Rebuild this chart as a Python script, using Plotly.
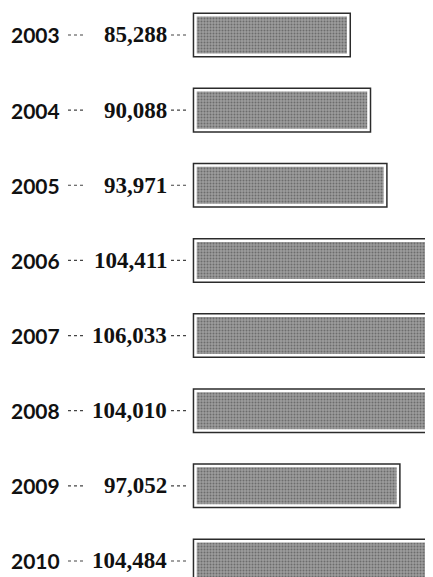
import plotly.graph_objects as go

# ---- data ----
years = ["2003", "2004", "2005", "2006", "2007", "2008", "2009", "2010"]
values = [85288, 90088, 93971, 104411, 106033, 104010, 97052, 104484]
value_labels = [f"{v:,}" for v in values]

# truncated value axis (bars start at the axis origin, not at zero)
AXIS_BASE = 49080
X_RANGE = [46600, 105370]

W, H = 433, 577
PAGE_OFFSET = 8          # default body margin of the html page
L_MARGIN = 177
R_MARGIN = 8
PLOT_W = W - L_MARGIN - R_MARGIN


def px_to_paper(img_px):
    return (img_px - PAGE_OFFSET - L_MARGIN) / PLOT_W


fig = go.Figure()

# outer dark frame
fig.add_trace(go.Bar(
    y=years, x=[v - AXIS_BASE for v in values], base=AXIS_BASE,
    orientation="h", width=0.526,
    marker=dict(color="#969696", line=dict(color="#2b2b2b", width=5.5)),
    hoverinfo="skip", showlegend=False,
))
# white inner gap + halftone fill
fig.add_trace(go.Bar(
    y=years, x=[v - AXIS_BASE for v in values], base=AXIS_BASE,
    orientation="h", width=0.526,
    marker=dict(
        color="#9c9c9c",
        line=dict(color="white", width=2.5),
        pattern=dict(shape=".", fgcolor="#3c3c3c", size=3, solidity=0.35,
                     fillmode="overlay"),
    ),
    hovertemplate="%{y}: %{customdata}<extra></extra>",
    customdata=value_labels, showlegend=False,
))

annotations = []
shapes = []
for i, (yr, lab) in enumerate(zip(years, value_labels)):
    # category axes position annotations/shapes by category index
    annotations.append(dict(
        x=px_to_paper(62), y=i, xref="paper", yref="y",
        text=yr, showarrow=False, xanchor="right", yanchor="middle",
        font=dict(family="Lato", size=21, color="#111111", weight="bold"),
    ))
    annotations.append(dict(
        x=px_to_paper(169), y=i, xref="paper", yref="y",
        text=lab, showarrow=False, xanchor="right", yanchor="middle",
        font=dict(family="Liberation Serif", size=23, color="#111111",
                  weight="bold"),
    ))
    for x0, x1 in ((68, 85), (171, 189)):
        shapes.append(dict(
            type="line", xref="paper", yref="y",
            x0=px_to_paper(x0), x1=px_to_paper(x1), y0=i, y1=i,
            line=dict(color="#444444", width=1.2, dash="dot"),
        ))

fig.update_layout(
    width=W, height=H,
    margin=dict(l=L_MARGIN, r=R_MARGIN, t=0, b=PAGE_OFFSET, pad=0),
    paper_bgcolor="white", plot_bgcolor="white",
    barmode="overlay",
    xaxis=dict(range=X_RANGE, visible=False, fixedrange=True),
    yaxis=dict(type="category", categoryorder="array", categoryarray=years,
               range=[7.213, -0.359], visible=False, fixedrange=True),
    annotations=annotations, shapes=shapes,
    showlegend=False,
)

fig.write_html("out.html")
